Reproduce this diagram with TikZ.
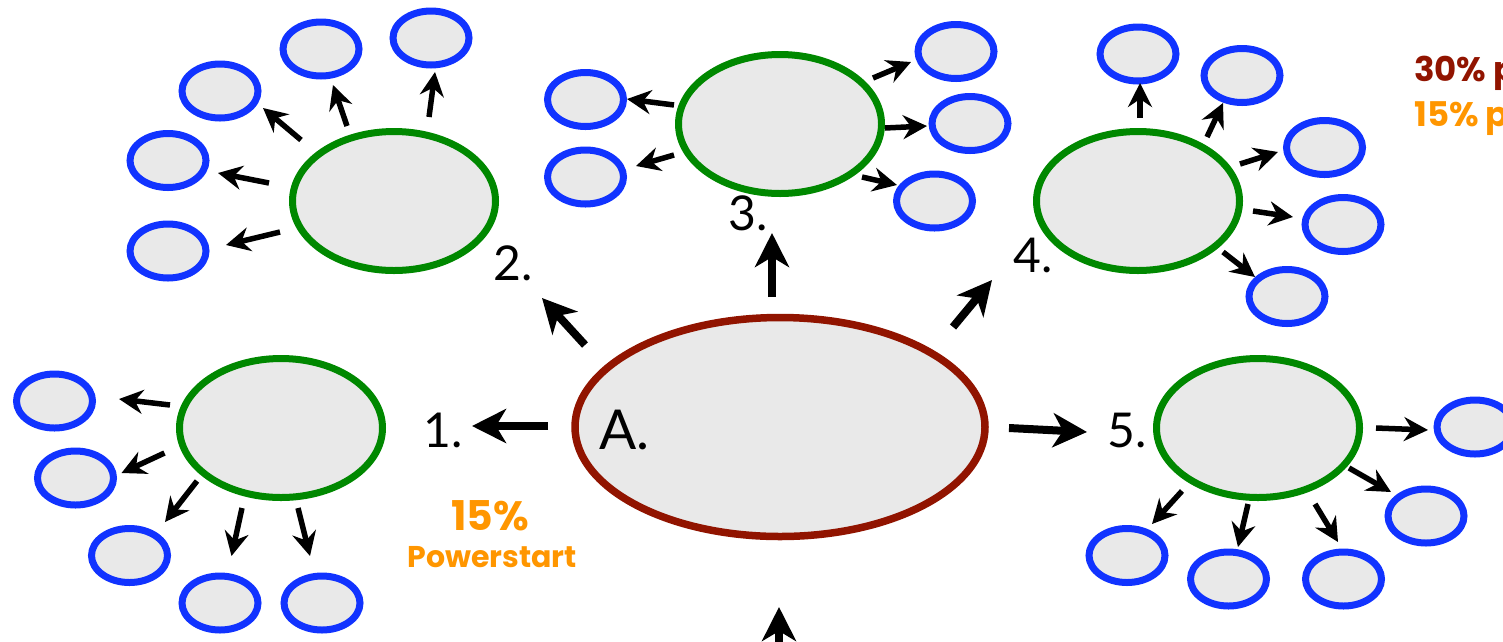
\documentclass[tikz,border=0pt]{standalone}
\usepackage{fontspec}
\setmainfont{Lato}
\newfontfamily\popf{Poppins}
\usetikzlibrary{arrows.meta,shapes.geometric}
\definecolor{fillg}{RGB}{233,233,233}
\definecolor{bblue}{RGB}{17,51,255}
\definecolor{ggreen}{RGB}{0,136,0}
\definecolor{dred}{RGB}{145,20,0}
\definecolor{orng}{RGB}{255,150,0}
\begin{document}
\begin{tikzpicture}[x=1pt,y=-1pt,
 hub/.style={ellipse, draw=dred, fill=fillg, line width=7.5pt, minimum width=410pt, minimum height=219pt, inner sep=0},
 grp/.style={ellipse, draw=ggreen, fill=fillg, line width=7pt, minimum width=203pt, minimum height=139pt, inner sep=0},
 leaf/.style={ellipse, draw=bblue, fill=fillg, line width=7pt, minimum width=76pt, minimum height=54pt, inner sep=0},
 sarr/.style={line width=5.5pt, -{Stealth[length=24pt,width=24pt,inset=8pt]}},
 barr/.style={line width=8pt, -{Stealth[length=34pt,width=34pt,inset=10pt]}},
 lbl/.style={anchor=base west, inner sep=0, font=\fontsize{48}{50}\selectfont},
 boldtxt/.style={inner sep=0, font=\popf\bfseries\fontsize{#1}{#1}\selectfont},
]
\useasboundingbox (0,0) rectangle (1503,641);

% hub
\node[hub] (A) at (780,427) {};
\node[anchor=base west, inner sep=0, font=\fontsize{55}{57}\selectfont] (lA) at (599,449) {A.};

% groups
\node[grp] (g1) at (281,428) {};
\node[grp] (g2) at (394,201) {};
\node[grp] (g3) at (780,124) {};
\node[grp] (g4) at (1138,201) {};
\node[grp] (g5) at (1258,428) {};

% leaves
\node[leaf] (b1a) at (54.5,401) {};
\node[leaf] (b1b) at (75.5,478) {};
\node[leaf] (b1c) at (129.5,555.5) {};
\node[leaf] (b1d) at (220,603) {};
\node[leaf] (b1e) at (322,603) {};

\node[leaf] (b2a) at (431,38) {};
\node[leaf] (b2b) at (321,49) {};
\node[leaf] (b2c) at (220,91) {};
\node[leaf] (b2d) at (168,160.5) {};
\node[leaf] (b2e) at (168,251) {};

\node[leaf] (b3a) at (585.5,99.5) {};
\node[leaf] (b3b) at (585.5,177) {};
\node[leaf] (b3c) at (956,51.5) {};
\node[leaf] (b3d) at (970,123.5) {};
\node[leaf] (b3e) at (934.5,201) {};

\node[leaf] (b4a) at (1138,54) {};
\node[leaf] (b4b) at (1242,75.5) {};
\node[leaf] (b4c) at (1324.5,147.5) {};
\node[leaf] (b4d) at (1343,224.5) {};
\node[leaf] (b4e) at (1287,296.5) {};

\node[leaf] (b5a) at (1475,427) {};
\node[leaf] (b5b) at (1426,516) {};
\node[leaf] (b5c) at (1343.5,579) {};
\node[leaf] (b5d) at (1228.5,579) {};
\node[leaf] (b5e) at (1127,555.5) {};

% labels
\node[lbl] (l1) at (423,447) {1.};
\node[lbl] (l2) at (493,280) {2.};
\node[lbl] (l3) at (728,230) {3.};
\node[lbl] (l4) at (1013,272) {4.};
\node[lbl] (l5) at (1107,447) {5.};

\node[boldtxt=41, anchor=base, text=orng] (p15) at (490,530) {15\%};
\node[boldtxt=30, anchor=base, text=orng] (pw) at (492,567) {Powerstart};
\node[boldtxt=34, anchor=base west, text=dred] (t30) at (1414,81) {30\% p};
\node[boldtxt=34, anchor=base west, text=orng] (t15) at (1414,126) {15\% p};

% main arrows
\draw[barr] ([shift={(-232,-1)}]A.center) -- ([shift={(191,-2)}]g1.center);
\draw[barr] ([shift={(-195,-82)}]A.center) -- ([shift={(148,97)}]g2.center);
\draw[barr] ([shift={(-8,-130)}]A.center) -- ([shift={(-8,109)}]g3.center);
\draw[barr] ([shift={(173,-100)}]A.center) -- ([shift={(-146,79)}]g4.center);
\draw[barr] ([shift={(229,1)}]A.center) -- ([shift={(-171,4)}]g5.center);
\coordinate (src) at (779,680);
\draw[barr] (src) -- ([shift={(-1,180)}]A.center);

% group 1
\draw[sarr] ([shift={(-111,-23)}]g1.center) -- ([shift={(64.5,-2)}]b1a.center);
\draw[sarr] ([shift={(-116.5,25)}]g1.center) -- ([shift={(46,-5)}]b1b.center);
\draw[sarr] ([shift={(-84,53)}]g1.center) -- ([shift={(35.5,-33.5)}]b1c.center);
\draw[sarr] ([shift={(-39,80)}]g1.center) -- ([shift={(11.5,-47)}]b1d.center);
\draw[sarr] ([shift={(17,80)}]g1.center) -- ([shift={(-12,-47)}]b1e.center);

% group 2
\draw[sarr] ([shift={(35,-84)}]g2.center) -- ([shift={(4,34)}]b2a.center);
\draw[sarr] ([shift={(-47,-75)}]g2.center) -- ([shift={(12,36)}]b2b.center);
\draw[sarr] ([shift={(-93,-61)}]g2.center) -- ([shift={(43,17)}]b2c.center);
\draw[sarr] ([shift={(-125,-18)}]g2.center) -- ([shift={(50,12.5)}]b2d.center);
\draw[sarr] ([shift={(-114,31)}]g2.center) -- ([shift={(58,-6)}]b2e.center);

% group 3
\draw[sarr] ([shift={(-106,-19)}]g3.center) -- ([shift={(41.5,-0.5)}]b3a.center);
\draw[sarr] ([shift={(-106,31)}]g3.center) -- ([shift={(50.5,-11)}]b3b.center);
\draw[sarr] ([shift={(93,-46)}]g3.center) -- ([shift={(-45,10.5)}]b3c.center);
\draw[sarr] ([shift={(105,4)}]g3.center) -- ([shift={(-43,2.5)}]b3d.center);
\draw[sarr] ([shift={(82,53)}]g3.center) -- ([shift={(-37.5,-16)}]b3e.center);

% group 4
\draw[sarr] ([shift={(2,-83)}]g4.center) -- ([shift={(2,29)}]b4a.center);
\draw[sarr] ([shift={(69,-64)}]g4.center) -- ([shift={(-19,27.5)}]b4b.center);
\draw[sarr] ([shift={(102,-37)}]g4.center) -- ([shift={(-46.5,4.5)}]b4c.center);
\draw[sarr] ([shift={(115,10)}]g4.center) -- ([shift={(-50,-7.5)}]b4d.center);
\draw[sarr] ([shift={(85,51)}]g4.center) -- ([shift={(-32,-19.5)}]b4e.center);

% group 5
\draw[sarr] ([shift={(118,0)}]g5.center) -- ([shift={(-47,3)}]b5a.center);
\draw[sarr] ([shift={(91,40)}]g5.center) -- ([shift={(-35,-24)}]b5b.center);
\draw[sarr] ([shift={(57,76)}]g5.center) -- ([shift={(-5.5,-37)}]b5c.center);
\draw[sarr] ([shift={(-10,76)}]g5.center) -- ([shift={(9.5,-32)}]b5d.center);
\draw[sarr] ([shift={(-76,63)}]g5.center) -- ([shift={(25,-31.5)}]b5e.center);
\end{tikzpicture}
\end{document}
